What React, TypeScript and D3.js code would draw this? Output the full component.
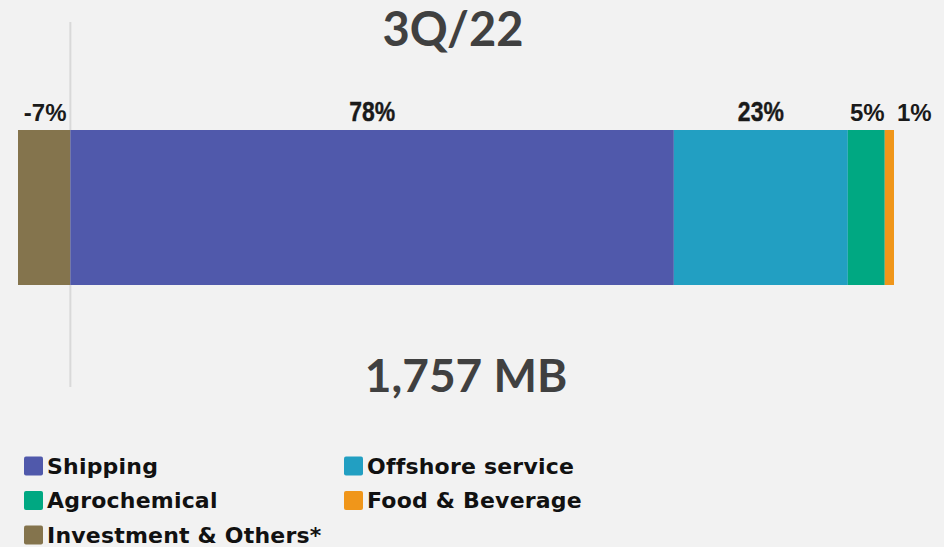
import React from 'react';
import { scaleLinear } from 'd3';

const categories = ['Investment & Others*', 'Shipping', 'Offshore service', 'Agrochemical', 'Food & Beverage'];
const shares = [-6.8, 78.4, 22.6, 4.8, 1.2];
const colors = ['#84744d', '#5059ab', '#229fc2', '#00a882', '#f0961a'];
const legendOrder = ['Shipping', 'Offshore service', 'Agrochemical', 'Food & Beverage', 'Investment & Others*'];
const title = '3Q/22';
const total = '1,757 MB';

const width = 944;
const height = 547;
const barTop = 130;
const barHeight = 155;

const App = () => {
  const minV = shares.filter((v) => v < 0).reduce((a, b) => a + b, 0);
  const maxV = shares.filter((v) => v > 0).reduce((a, b) => a + b, 0);
  const x = scaleLinear().domain([minV, maxV]).range([18, 894]);

  // stack: negatives go left from zero, positives go right
  let pos = 0;
  let neg = 0;
  const segs = categories.map((c, i) => {
    const v = shares[i];
    let x0;
    let x1;
    if (v < 0) {
      x1 = neg;
      x0 = neg + v;
      neg += v;
    } else {
      x0 = pos;
      x1 = pos + v;
      pos += v;
    }
    return { c, v, x0, x1, color: colors[i] };
  });

  const arial = '"Liberation Sans", Arial, sans-serif';
  const gothic = 'Lato, "DejaVu Sans", sans-serif';

  return (
    <svg width={width} height={height} style={{ position: 'absolute', left: 0, top: 0 }}>
      <rect width={width} height={height} fill="#f2f2f2" />
      <line x1={x(0)} x2={x(0)} y1={22} y2={387} stroke="#d9d9d9" strokeWidth={2} />
      <text x={453} y={46} textAnchor="middle" fontFamily={gothic} fontWeight="bold" fontSize={47} fill="#404040">
        {title}
      </text>
      {segs.map((s) => (
        <rect key={s.c} x={x(s.x0)} y={barTop} width={x(s.x1) - x(s.x0)} height={barHeight} fill={s.color} />
      ))}
      {segs.map((s) => {
        const w = x(s.x1) - x(s.x0);
        const label = `${Math.round(s.v)}%`;
        if (w < 20) {
          return (
            <text key={s.c} x={x(s.x1) + 3} y={121} fontFamily={arial} fontWeight="bold" fontSize={24} fill="#1a1a1a">
              {label}
            </text>
          );
        }
        if (w < 60) {
          return (
            <text key={s.c} x={(x(s.x0) + x(s.x1)) / 2 + 1} y={121} textAnchor="middle" fontFamily={arial} fontWeight="bold" fontSize={24} fill="#1a1a1a">
              {label}
            </text>
          );
        }
        // condensed look for the wide segments
        return (
          <g key={s.c} transform={`translate(${(x(s.x0) + x(s.x1)) / 2}, 121) scale(0.82, 1)`}>
            <text textAnchor="middle" fontFamily={arial} fontWeight="bold" fontSize={28} fill="#1a1a1a" stroke="#1a1a1a" strokeWidth={0.4}>
              {label}
            </text>
          </g>
        );
      })}
      <text x={466} y={392} textAnchor="middle" fontFamily={gothic} fontWeight="bold" fontSize={46} fill="#404040">
        {total}
      </text>
      {legendOrder.map((name, i) => {
        const col = i % 2;
        const row = Math.floor(i / 2);
        const lx = col === 0 ? 24 : 344;
        const ly = 466 + row * 34.5;
        const color = colors[categories.indexOf(name)];
        return (
          <g key={name} transform={`translate(${lx}, ${ly})`}>
            <rect x={0} y={-9.5} width={19} height={19} rx={2} fill={color} />
            <text x={23} y={0} dy="0.36em" fontFamily="'DejaVu Sans', sans-serif" fontWeight="bold" fontSize={22} letterSpacing={0.2} fill="#111">
              {name}
            </text>
          </g>
        );
      })}
    </svg>
  );
};

export default App;
